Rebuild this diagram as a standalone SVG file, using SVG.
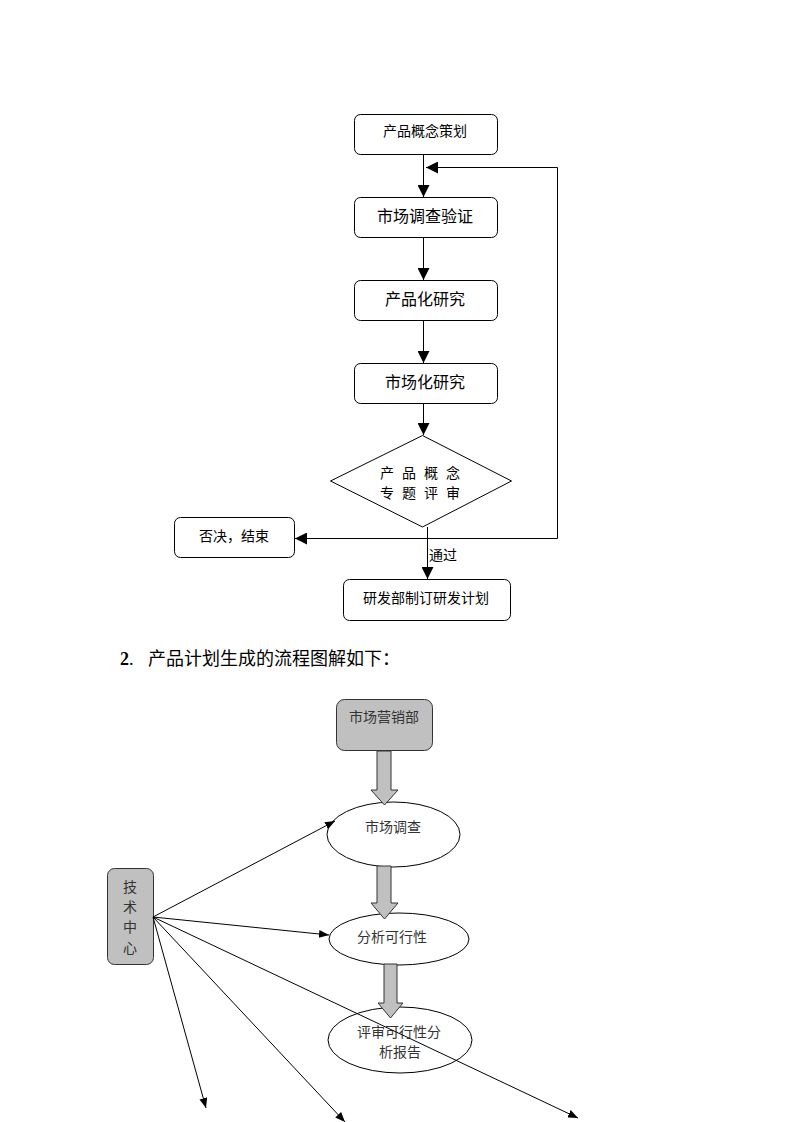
<svg xmlns="http://www.w3.org/2000/svg" width="793" height="1122" viewBox="0 0 793 1122">
<style>
.box{fill:#fff;stroke:#000;stroke-width:1}
.gbox{fill:#c0c0c0;stroke:#333;stroke-width:1}
.ell{fill:#fff;stroke:#000;stroke-width:1}
.ln{fill:none;stroke:#000;stroke-width:1}
.t{font-family:"Noto Sans CJK SC","Liberation Sans",sans-serif;fill:#000;text-anchor:middle;dominant-baseline:central}
.s{font-family:"Liberation Serif","Noto Sans CJK SC",serif;fill:#333;text-anchor:middle;dominant-baseline:central;font-size:14px}
.barrow{fill:#c0c0c0;stroke:#333;stroke-width:1}
</style>
<defs>
<marker id="ah" markerUnits="userSpaceOnUse" markerWidth="12" markerHeight="12" viewBox="0 0 10 10" refX="10" refY="5" orient="auto">
<path d="M0,0 L10,5 L0,10 z" fill="#000"/>
</marker>
<marker id="ah2" markerUnits="userSpaceOnUse" markerWidth="10" markerHeight="8" viewBox="0 0 10 8" refX="10" refY="4" orient="auto">
<path d="M0,0 L10,4 L0,8 z" fill="#000"/>
</marker>
</defs>

<g id="n1"><rect class="box" x="354.5" y="114.5" width="143" height="40" rx="6"/><text class="t" x="425" y="130" font-size="14">产品概念策划</text></g>
<g id="n2"><rect class="box" x="354.5" y="197.5" width="143" height="40" rx="6"/><text class="t" x="425" y="215" font-size="16">市场调查验证</text></g>
<g id="n3"><rect class="box" x="354.5" y="280.5" width="143" height="40" rx="6"/><text class="t" x="425" y="298" font-size="16">产品化研究</text></g>
<g id="n4"><rect class="box" x="354.5" y="363.5" width="143" height="40" rx="6"/><text class="t" x="425" y="381" font-size="16">市场化研究</text></g>
<g id="n5"><polygon class="box" points="422.5,435.5 511.5,481 422.5,527 330.5,481"/>
<text class="t" x="380" y="472" font-size="14" style="text-anchor:start" letter-spacing="8">产品概念</text>
<text class="t" x="380" y="492" font-size="14" style="text-anchor:start" letter-spacing="8">专题评审</text></g>
<g id="n6"><rect class="box" x="174.5" y="517.5" width="120" height="40" rx="6"/><text class="t" x="234" y="535" font-size="14">否决，结束</text></g>
<g id="n7"><rect class="box" x="343.5" y="579.5" width="167" height="41" rx="6"/><text class="t" x="426" y="597" font-size="14">研发部制订研发计划</text></g>

<g id="heading"><text x="120" y="665" font-family="'Liberation Serif','Noto Sans CJK SC',serif" font-size="18" fill="#000"><tspan font-weight="bold">2</tspan><tspan>.</tspan><tspan x="148">产品计划生成的流程图解如下：</tspan></text></g>

<g id="m1"><rect class="gbox" x="336.5" y="699.5" width="96" height="51" rx="8"/><text class="s" x="384" y="717">市场营销部</text></g>
<g id="m2"><ellipse class="ell" cx="393.5" cy="834.5" rx="66.5" ry="32.5"/><text class="s" x="393" y="827">市场调查</text></g>
<g id="m3"><ellipse class="ell" cx="399" cy="939" rx="70" ry="26"/><text class="s" x="392" y="937">分析可行性</text></g>
<g id="m4"><ellipse class="ell" cx="400" cy="1040" rx="72" ry="33"/><text class="s" x="399" y="1032">评审可行性分</text><text class="s" x="400" y="1052">析报告</text></g>
<g id="m5"><rect class="gbox" x="107.5" y="868.5" width="46" height="96" rx="7"/>
<text class="s" x="130" y="887">技</text><text class="s" x="130" y="907">术</text><text class="s" x="130" y="927">中</text><text class="s" x="130" y="948">心</text></g>

<g id="connectors">
<line class="ln" x1="423.5" y1="154" x2="423.5" y2="197" marker-end="url(#ah)"/>
<line class="ln" x1="423.5" y1="237" x2="423.5" y2="280" marker-end="url(#ah)"/>
<line class="ln" x1="423.5" y1="321" x2="423.5" y2="363" marker-end="url(#ah)"/>
<line class="ln" x1="423.5" y1="404" x2="423.5" y2="435" marker-end="url(#ah)"/>
<line class="ln" x1="427.5" y1="527" x2="427.5" y2="579" marker-end="url(#ah)"/>
<path class="ln" d="M557.5,538.5 H295" marker-end="url(#ah)"/>
<path class="ln" d="M557.5,538.5 V167.5 H426" marker-end="url(#ah)"/>
<text class="t" x="429" y="554" style="text-anchor:start;font-size:14px">通过</text>

<path class="barrow" d="M377,751 H391 V790 H398 L384.5,805 L371,790 H377 Z"/>
<path class="barrow" d="M377,866 H391 V903 H398 L384.5,919 L371,903 H377 Z"/>
<path class="barrow" d="M384,964 H397 V1003 H403 L390.5,1018 L378,1003 H384 Z"/>

<line class="ln" x1="153" y1="917" x2="335" y2="821" marker-end="url(#ah2)"/>
<line class="ln" x1="153" y1="917" x2="329" y2="935" marker-end="url(#ah2)"/>
<line class="ln" x1="153" y1="917" x2="206" y2="1108" marker-end="url(#ah2)"/>
<line class="ln" x1="153" y1="917" x2="345" y2="1122" marker-end="url(#ah2)"/>
<line class="ln" x1="153" y1="917" x2="578" y2="1118" marker-end="url(#ah2)"/>
</g>
</svg>
